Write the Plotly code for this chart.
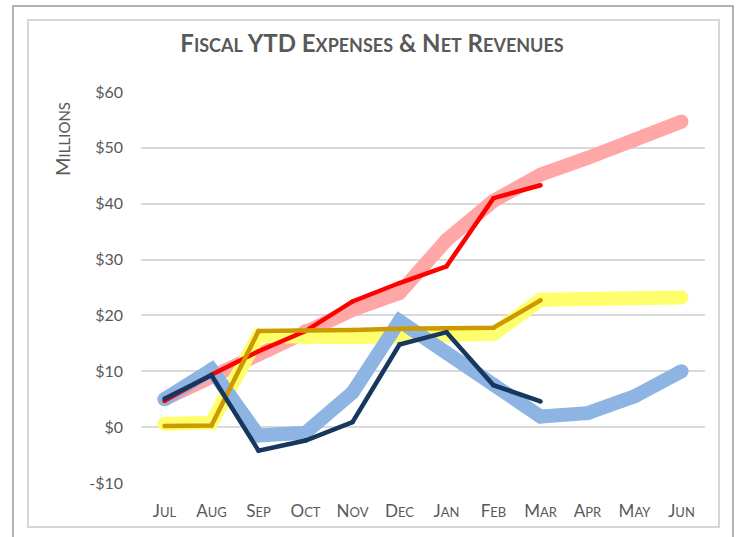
import plotly.graph_objects as go

months = ["Jul", "Aug", "Sep", "Oct", "Nov", "Dec", "Jan", "Feb", "Mar", "Apr", "May", "Jun"]
y_ticks = [-10, 0, 10, 20, 30, 40, 50, 60]
y_tick_text = ["-$10", "$0", "$10", "$20", "$30", "$40", "$50", "$60"]

budget_expenses = [5.0, 9.0, 13.0, 17.2, 21.0, 24.0, 33.5, 40.5, 45.2, 48.2, 51.4, 54.7]
actual_expenses = [4.7, 9.4, 13.6, 17.2, 22.5, 25.8, 28.8, 41.0, 43.3]
budget_revenues = [0.6, 0.8, 16.3, 16.0, 16.1, 16.3, 16.5, 16.7, 22.8, 23.0, 23.1, 23.2]
actual_revenues = [0.2, 0.3, 17.2, 17.2, 17.4, 17.6, 17.6, 17.8, 22.7]
budget_net = [5.0, 10.3, -1.5, -1.0, 6.2, 19.0, 13.3, 7.6, 1.9, 2.5, 5.5, 10.0]
actual_net = [5.1, 9.3, -4.2, -2.4, 0.9, 14.8, 17.0, 7.5, 4.6]

W, H = 739, 537
ML, MR, MT, MB = 141, 34, 92, 54
PW, PH = W - ML - MR, H - MT - MB


def px(x):
    return (x - ML) / PW


def py(y):
    return 1 - (y - MT) / PH


def small_caps(word, small):
    return word[0].upper() + "<span style='font-size:%dpx'>%s</span>" % (small, word[1:].upper())


def small_caps_text(text, small):
    return " ".join(small_caps(w, small) if len(w) > 1 and w.isalpha() and not w.isupper() else w
                    for w in text.split(" "))


GRAY = "#595959"
FONT = "Lato"

fig = go.Figure()


def add_line(name, values, color, width):
    fig.add_trace(go.Scatter(
        x=months[:len(values)], y=values, name=name, mode="lines+markers",
        line=dict(color=color, width=width),
        marker=dict(color=color, size=width, line=dict(width=0)),
        hoverinfo="x+y+name",
    ))


add_line("Budget Expenses", budget_expenses, "#FFA7A7", 14)
add_line("Budget Revenues", budget_revenues, "#FFFF6E", 14)
add_line("Budget Net", budget_net, "#8DB4E2", 14)
add_line("Actual Expenses", actual_expenses, "#FF0000", 4.5)
add_line("Actual Revenues", actual_revenues, "#CC9900", 4.5)
add_line("Actual Net", actual_net, "#17375E", 4.5)

x_tick_text = [small_caps(m, 13) for m in months]

fig.update_layout(
    width=W, height=H,
    margin=dict(l=ML, r=MR, t=MT, b=MB),
    paper_bgcolor="white", plot_bgcolor="white",
    showlegend=False,
    font=dict(family=FONT, color=GRAY),
    title=dict(
        text="<b>" + small_caps_text("Fiscal YTD Expenses & Net Revenues", 18) + "</b>",
        font=dict(family=FONT, size=24, color=GRAY),
        x=px(372), xanchor="center", xref="paper", y=1 - 44 / H, yanchor="middle",
    ),
    xaxis=dict(
        type="category", categoryorder="array", categoryarray=months,
        range=[-0.5, len(months) - 0.5],
        tickmode="array", tickvals=months, ticktext=x_tick_text,
        tickfont=dict(family=FONT, size=17, color=GRAY),
        showgrid=False, zeroline=False, showline=False, ticks="",
        ticklabelstandoff=16,
    ),
    yaxis=dict(
        range=[-10, 60], tickmode="array", tickvals=y_ticks, ticktext=y_tick_text,
        tickfont=dict(family=FONT, size=16, color=GRAY),
        showgrid=True, gridcolor="#D9D9D9", gridwidth=1.5,
        zeroline=False, showline=False, ticks="",
        ticklabelstandoff=17,
    ),
    annotations=[dict(
        text=small_caps("Millions", 15), textangle=-90,
        xref="paper", yref="paper", x=px(62), y=py(139),
        xanchor="center", yanchor="middle", showarrow=False,
        font=dict(family=FONT, size=20, color=GRAY),
    )],
    shapes=[
        dict(type="rect", xref="paper", yref="paper",
             x0=px(28), x1=px(719), y0=py(527), y1=py(20),
             line=dict(color="#D6D6D6", width=2), layer="below"),
        dict(type="rect", xref="paper", yref="paper",
             x0=px(13), x1=px(733), y0=py(545), y1=py(6),
             line=dict(color="#9A9A9A", width=1.5), layer="below"),
    ],
)

fig.write_html("out.html", config={"displayModeBar": False},
               post_script="document.body.style.margin='0';")
